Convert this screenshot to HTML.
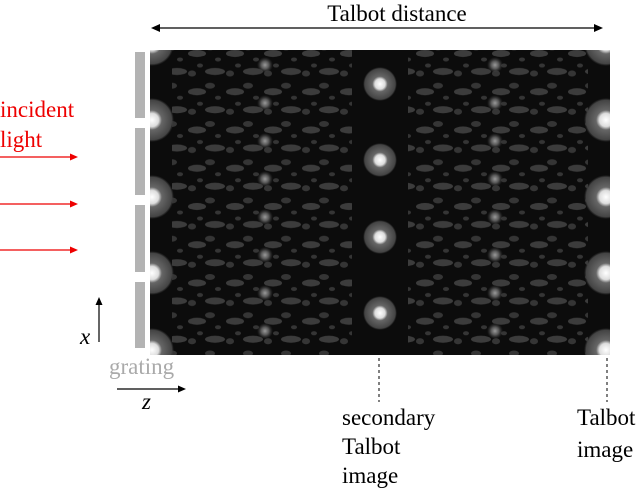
<!DOCTYPE html>
<html><head><style>
body{margin:0;background:#fff;width:638px;height:491px;overflow:hidden}
svg{display:block}
text{font-family:"Liberation Serif",serif;font-size:23px}
</style></head><body>
<svg width="638" height="491" viewBox="0 0 638 491">
<defs>
<radialGradient id="b"><stop offset="0" stop-color="#fff"/><stop offset="0.3" stop-color="#ddd"/><stop offset="0.45" stop-color="#666"/><stop offset="0.9" stop-color="#444"/><stop offset="1" stop-color="#333" stop-opacity="0"/></radialGradient>
<radialGradient id="d"><stop offset="0" stop-color="#999"/><stop offset="0.5" stop-color="#555"/><stop offset="1" stop-color="#333" stop-opacity="0"/></radialGradient>
<pattern id="p" x="150" y="43.5" width="38" height="38.25" patternUnits="userSpaceOnUse">
<ellipse cx="9" cy="10" rx="9" ry="3.5" fill="#3c3c3c"/>
<ellipse cx="27" cy="28" rx="10" ry="3.5" fill="#3c3c3c"/>
<ellipse cx="22" cy="4" rx="5" ry="3" fill="#353535"/>
<ellipse cx="4" cy="30" rx="4" ry="3" fill="#353535"/>
<ellipse cx="30" cy="16" rx="3" ry="2" fill="#353535"/>
<ellipse cx="12" cy="22" rx="3" ry="2" fill="#353535"/>
</pattern>
<clipPath id="c"><rect x="150" y="50" width="460" height="305"/></clipPath>
</defs>
<rect x="150" y="50" width="460" height="305" fill="#0c0c0c"/>
<g clip-path="url(#c)">
<rect x="172" y="50" width="180" height="305" fill="url(#p)"/>
<rect x="408" y="50" width="180" height="305" fill="url(#p)"/>
<g fill="url(#b)">
<circle cx="152" cy="44" r="22"/><circle cx="152" cy="120" r="22"/><circle cx="152" cy="197" r="22"/><circle cx="152" cy="273" r="22"/><circle cx="152" cy="350" r="22"/>
<circle cx="606" cy="44" r="22"/><circle cx="606" cy="120" r="22"/><circle cx="606" cy="197" r="22"/><circle cx="606" cy="273" r="22"/><circle cx="606" cy="350" r="22"/>
<circle cx="380" cy="84" r="17"/><circle cx="380" cy="160" r="17"/><circle cx="380" cy="237" r="17"/><circle cx="380" cy="313" r="17"/>
</g>
<g fill="url(#d)">
<circle cx="265" cy="65" r="8"/><circle cx="265" cy="103" r="8"/><circle cx="265" cy="141" r="8"/><circle cx="265" cy="179" r="8"/><circle cx="265" cy="217" r="8"/><circle cx="265" cy="255" r="8"/><circle cx="265" cy="293" r="8"/><circle cx="265" cy="331" r="8"/>
<circle cx="495" cy="65" r="8"/><circle cx="495" cy="103" r="8"/><circle cx="495" cy="141" r="8"/><circle cx="495" cy="179" r="8"/><circle cx="495" cy="217" r="8"/><circle cx="495" cy="255" r="8"/><circle cx="495" cy="293" r="8"/><circle cx="495" cy="331" r="8"/>
</g>
</g>
<g fill="#b3b3b3">
<rect x="135" y="52" width="10" height="66"/><rect x="135" y="128" width="10" height="67"/><rect x="135" y="205" width="10" height="67"/><rect x="135" y="282" width="10" height="66"/>
</g>
<text x="397" y="21" text-anchor="middle">Talbot distance</text>
<line x1="154" y1="28" x2="600" y2="28" stroke="#000" stroke-width="1.2"/>
<path d="M151 28l9-4v8zM603 28l-9-4v8z" fill="#000"/>
<text x="0" y="117" fill="#e00">incident</text>
<text x="0" y="147" fill="#e00">light</text>
<g stroke="#e00" stroke-width="1.2"><line x1="0" y1="157" x2="74" y2="157"/><line x1="0" y1="204" x2="74" y2="204"/><line x1="0" y1="250" x2="74" y2="250"/></g>
<path d="M78 157l-8-3.5v7zM78 204l-8-3.5v7zM78 250l-8-3.5v7z" fill="#e00"/>
<line x1="99" y1="342" x2="99" y2="302" stroke="#000" stroke-width="1.2"/>
<path d="M99 297l-3.5 8h7z" fill="#000"/>
<text x="80" y="344" font-style="italic">x</text>
<text x="109" y="374" fill="#aaa">grating</text>
<line x1="117" y1="389" x2="181" y2="389" stroke="#000" stroke-width="1.2"/>
<path d="M186 389l-8-3.5v7z" fill="#000"/>
<text x="142" y="409" font-style="italic">z</text>
<g stroke="#000" stroke-dasharray="3,3"><line x1="379" y1="358" x2="379" y2="402"/><line x1="607" y1="358" x2="607" y2="402"/></g>
<text x="342" y="425">secondary</text>
<text x="342" y="454">Talbot</text>
<text x="342" y="483">image</text>
<text x="577" y="425">Talbot</text>
<text x="577" y="457">image</text>
</svg>
</body></html>
